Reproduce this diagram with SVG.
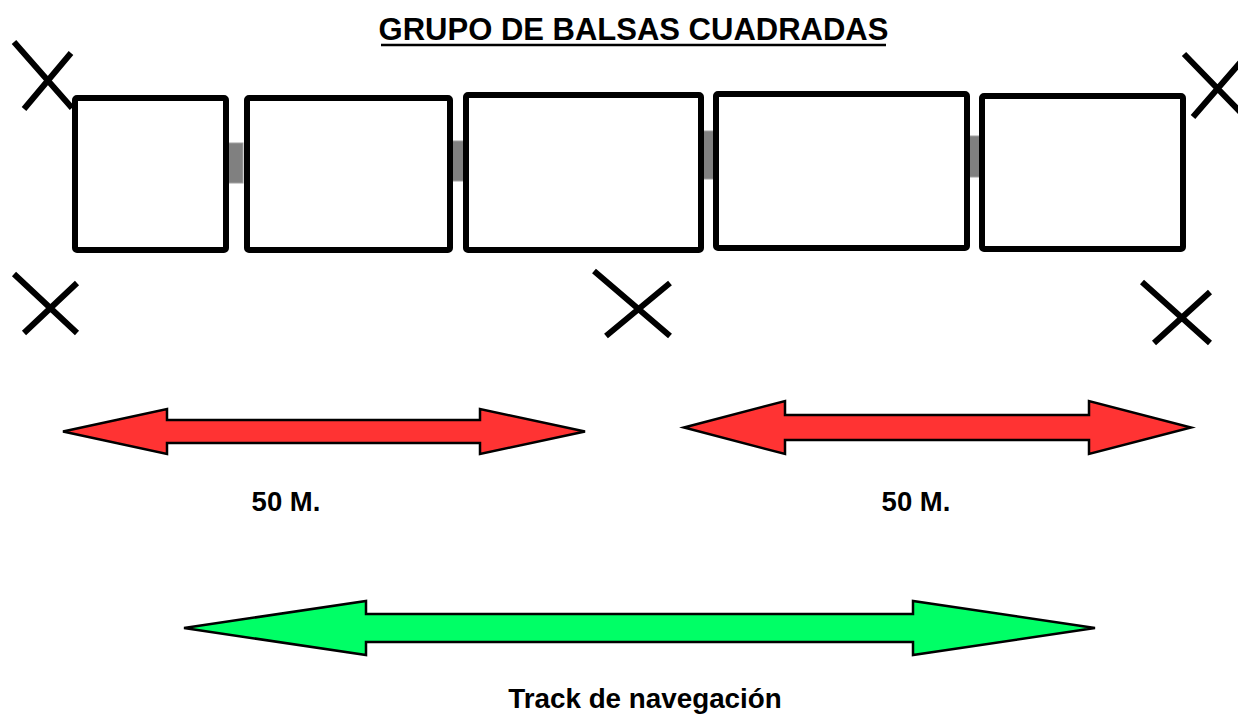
<svg xmlns="http://www.w3.org/2000/svg" width="1238" height="715" viewBox="0 0 1238 715">
<style>
.raft{fill:#fff;stroke:#000;stroke-width:6;stroke-linejoin:round}
.joint{fill:#808080;stroke:#a0a0a0;stroke-width:1}
.x{stroke:#000;stroke-width:6;fill:none}
.red{fill:#ff3333;stroke:#000;stroke-width:2.5;stroke-linejoin:miter}
.green{fill:#00ff66;stroke:#000;stroke-width:2.5;stroke-linejoin:miter}
.lbl{font-family:"Liberation Sans",Arial,sans-serif;font-weight:bold;fill:#000}
</style>
<rect width="1238" height="715" fill="#fff"/>
<g id="title">
<text class="lbl" x="633.5" y="40" font-size="31" text-anchor="middle">GRUPO DE BALSAS CUADRADAS</text>
<line x1="381" y1="45" x2="886" y2="45" stroke="#000" stroke-width="2.5"/>
</g>
<g id="connectors">
<rect class="joint" x="228" y="143" width="15" height="40"/>
<rect class="joint" x="452" y="141" width="15" height="40"/>
<rect class="joint" x="702" y="131" width="15" height="48"/>
<rect class="joint" x="968" y="136" width="15" height="41"/>
</g>
<g id="balsa1"><rect class="raft" x="75" y="98" width="151" height="152" rx="2"/></g>
<g id="balsa2"><rect class="raft" x="247" y="98" width="203" height="152" rx="2"/></g>
<g id="balsa3"><rect class="raft" x="466" y="95" width="235" height="155" rx="2"/></g>
<g id="balsa4"><rect class="raft" x="716" y="94" width="251" height="154" rx="2"/></g>
<g id="balsa5"><rect class="raft" x="982" y="96" width="201" height="153" rx="2"/></g>
<g id="anclas">
<path class="x" d="M14 42 L72 108 M71 53 L24 109"/>
<path class="x" d="M14 274 L77 333 M77 283 L24 333"/>
<path class="x" d="M594 271 L670 336 M670 283 L606 336"/>
<path class="x" d="M1184 54 L1250 122 M1245 57 L1193 117"/>
<path class="x" d="M1142 282 L1210 343 M1210 292 L1154 343"/>
</g>
<g id="flecha1">
<polygon class="red" points="63,431.5 167,409 167,420 480,420 480,409 585,431.5 480,454 480,443 167,443 167,454"/>
<text class="lbl" x="286" y="511" font-size="27.5" text-anchor="middle">50 M.</text>
</g>
<g id="flecha2">
<polygon class="red" points="684,427.5 785,401 785,415 1089,415 1089,401 1191,427.5 1089,454 1089,440 785,440 785,454"/>
<text class="lbl" x="916" y="511" font-size="27.5" text-anchor="middle">50 M.</text>
</g>
<g id="track">
<polygon class="green" points="184,628 366,601 366,614 913,614 913,601 1095,628 913,655 913,642 366,642 366,655"/>
<text class="lbl" x="645" y="708" font-size="27.8" text-anchor="middle">Track de navegación</text>
</g>
</svg>
